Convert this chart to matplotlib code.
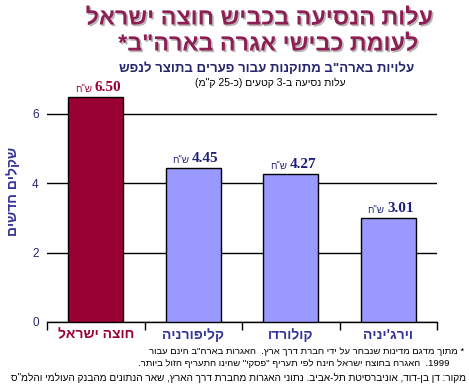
import re
import matplotlib
matplotlib.use("Agg")
import matplotlib.pyplot as plt
import matplotlib.patheffects as pe
from matplotlib.transforms import offset_copy

plt.rcParams['font.family'] = ['Liberation Sans', 'DejaVu Sans']

# ---- data ----
categories = ["חוצה ישראל", "קליפורניה", "קולורדו", "וירג'יניה"]
values = [6.50, 4.45, 4.27, 3.01]
value_labels = ["6.50", "4.45", "4.27", "3.01"]
currency = 'ש"ח'
yticks = [0, 2, 4, 6]

title1 = "עלות הנסיעה בכביש חוצה ישראל"
title2 = 'לעומת כבישי אגרה בארה"ב*'
subtitle1 = 'עלויות בארה"ב מתוקנות עבור פערים בתוצר לנפש'
subtitle2 = 'עלות נסיעה ב-3 קטעים (כ-25 ק"מ)'
ylabel = "שקלים חדשים"
note1 = '* מתוך מדגם מדינות שנבחר על ידי חברת דרך ארץ.  האגרות בארה"ב הינם עבור'
note2 = '1999.  האגרה בחוצה ישראל הינה לפי תעריף "פסקי" שהינו התעריף הזול ביותר.'
source = 'מקור: דן בן-דוד, אוניברסיטת תל-אביב. נתוני האגרות מחברת דרך הארץ, שאר הנתונים מהבנק העולמי והלמ"ס'


def vis(s):
    """Convert logical RTL text to visual order for left-to-right drawing."""
    r = s[::-1]
    r = r.translate(str.maketrans("()", ")("))
    r = re.sub(r"[0-9][0-9.,]*[0-9]|[0-9]", lambda m: m.group(0)[::-1], r)
    return r


RED = "#990033"
LILAC = "#9999FF"
NAVY = "#333399"
DNAVY = "#26266E"
TITLE = "#8E1F55"

W, H = 469, 386
fig = plt.figure(figsize=(W / 100, H / 100), dpi=100)
ax = fig.add_axes([47 / W, 1 - 322 / H, 390 / W, (322 - 79.3) / H])

x = list(range(len(categories)))
colors = [RED] + [LILAC] * (len(categories) - 1)
ax.bar(x, values, width=0.56, color=colors, edgecolor="black", linewidth=1, zorder=3)

ax.set_xlim(-0.5, len(categories) - 0.5)
ax.set_ylim(0, 7)
ax.set_yticks(yticks)
ax.yaxis.grid(True, color="black", linewidth=1, zorder=0)
ax.set_axisbelow(True)
for s in ["left", "right", "top"]:
    ax.spines[s].set_visible(False)
ax.spines["bottom"].set_linewidth(1)
ax.tick_params(axis="y", length=0, pad=6, labelsize=8.5, labelcolor=DNAVY)

ax.set_xticks(x)
ax.set_xticklabels([vis(c) for c in categories], fontweight="bold", fontsize=10)
for lbl, c in zip(ax.get_xticklabels(), colors):
    lbl.set_color(RED if c == RED else NAVY)
ax.tick_params(axis="x", which="major", length=0, pad=4)
ax.set_xticks([i - 0.5 for i in range(len(categories) + 1)], minor=True)
ax.tick_params(axis="x", which="minor", length=6, width=1, direction="out")

# value labels
for xi, v, lab, c in zip(x, values, value_labels, colors):
    col = RED if c == RED else "#1F1F7A"
    t1 = offset_copy(ax.transData, fig=fig, x=-4, y=3, units="dots")
    t2 = offset_copy(ax.transData, fig=fig, x=-1, y=3, units="dots")
    ax.text(xi, v, vis(currency), transform=t1, ha="right", va="bottom",
            fontsize=7, color=col)
    ax.text(xi, v, lab, transform=t2, ha="left", va="bottom", fontsize=11,
            fontweight="bold", family="Liberation Serif", color=col)

shadow = [pe.SimplePatchShadow(offset=(1.2, -1.2), shadow_rgbFace="#888888", alpha=0.6), pe.Normal()]
fig.text(260 / W, 1 - 18 / H, vis(title1), ha="center", va="center", fontsize=16.8,
         fontweight="bold", color=TITLE, path_effects=shadow)
fig.text(269 / W, 1 - 44 / H, vis(title2), ha="center", va="center", fontsize=16.8,
         fontweight="bold", color=TITLE, path_effects=shadow)
fig.text(267 / W, 1 - 69 / H, vis(subtitle1), ha="center", va="center", fontsize=9.5,
         fontweight="bold", color=DNAVY)
fig.text(270 / W, 1 - 83 / H, vis(subtitle2), ha="center", va="center", fontsize=7.5,
         color="black")
fig.text(13 / W, 1 - 191 / H, vis(ylabel), ha="center", va="center", rotation=90,
         fontsize=10, fontweight="bold", color=NAVY)

fig.text(464 / W, 1 - 351 / H, vis(note1), ha="right", va="center", fontsize=6.8, color="black")
fig.text(449 / W, 1 - 363 / H, vis(note2), ha="right", va="center", fontsize=6.8, color="black")
fig.text(466 / W, 1 - 378 / H, vis(source), ha="right", va="center", fontsize=7.2, color="black")

fig.savefig("out.png", dpi=100, facecolor="white")
